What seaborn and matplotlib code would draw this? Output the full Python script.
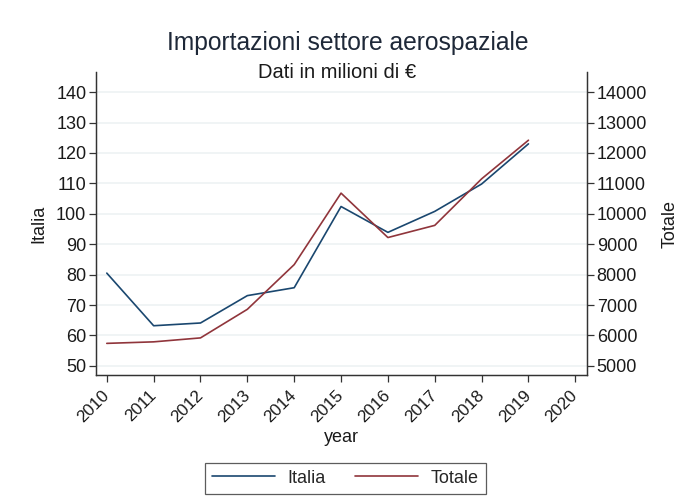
import pandas as pd
import matplotlib
matplotlib.use("Agg")
import matplotlib.pyplot as plt
import matplotlib.transforms as mtransforms
import seaborn as sns

sns.set_theme(style="white")
plt.rcParams['font.family'] = ['Liberation Sans', 'DejaVu Sans']

# Data
years = [2010, 2011, 2012, 2013, 2014, 2015, 2016, 2017, 2018, 2019]
italia = [80.5, 63.2, 64.1, 73.1, 75.7, 102.4, 93.9, 100.8, 109.8, 123.0]
totale = [5740, 5790, 5920, 6860, 8330, 10680, 9220, 9620, 11150, 12420]

year_ticks = list(range(2010, 2021))
left_ticks = list(range(50, 141, 10))
right_ticks = list(range(5000, 14001, 1000))

df = pd.DataFrame({'year': years, 'Italia': italia, 'Totale': totale})

c_italia = '#1a476f'
c_totale = '#90353b'
txt = '#1a1a1a'
fs = 13

fig = plt.figure(figsize=(6.81, 5.01), dpi=100)
ax = fig.add_axes([0.141, 0.2515, 0.721, 0.604])
ax2 = ax.twinx()

sns.lineplot(data=df, x='year', y='Italia', color=c_italia, linewidth=1.2, ax=ax, label='Italia', legend=False)
sns.lineplot(data=df, x='year', y='Totale', color=c_totale, linewidth=1.2, ax=ax2, label='Totale', legend=False)

ax.set_xlim(2009.77, 2020.25)
ax.set_ylim(47, 146.5)
ax2.set_ylim(4700, 14650)

ax.set_xticks(year_ticks)
ax.set_xticklabels([str(y) for y in year_ticks], rotation=45, ha='right', va='center',
                   rotation_mode='anchor', fontsize=12.3, color=txt)
# nudge rotated year labels a little to the right, like the original
offset = mtransforms.ScaledTranslation(5 / 100, 0, fig.dpi_scale_trans)
for lbl in ax.get_xticklabels():
    lbl.set_transform(lbl.get_transform() + offset)

ax.set_yticks(left_ticks)
ax.set_yticklabels([str(v) for v in left_ticks], fontsize=fs, color=txt)
ax2.set_yticks(right_ticks)
ax2.set_yticklabels([str(v) for v in right_ticks], fontsize=fs, color=txt)

ax.grid(axis='y', color='#eef2f3', linewidth=1.2)
ax.set_axisbelow(True)

for a in (ax, ax2):
    a.tick_params(axis='both', which='major', direction='out', length=5, width=0.9, color='#333333', pad=2)
    a.spines['top'].set_visible(False)
    for s in ('left', 'right', 'bottom'):
        a.spines[s].set_color('#333333')
        a.spines[s].set_linewidth(0.9)
ax.tick_params(axis='x', bottom=True, pad=8)
ax.tick_params(axis='y', left=True)
ax2.tick_params(axis='y', right=True)

ax.set_xlabel('year', fontsize=fs, color=txt, labelpad=3)
ax.set_ylabel('Italia', fontsize=fs, color=txt, labelpad=6)
ax2.set_ylabel('Totale', fontsize=fs, color=txt, labelpad=10)

fig.text(0.511, 0.915, 'Importazioni settore aerospaziale', ha='center', va='center', fontsize=17.7, color='#1e2838')
fig.text(0.495, 0.855, 'Dati in milioni di €', ha='center', va='center', fontsize=14.5, color=txt)

h1, l1 = ax.get_legend_handles_labels()
h2, l2 = ax2.get_legend_handles_labels()
leg = fig.legend(h1 + h2, l1 + l2, loc='lower center', bbox_to_anchor=(0.507, 0.014), ncol=2,
                 fontsize=fs, frameon=True, fancybox=False, handlelength=3.5, columnspacing=1.6,
                 borderpad=0.4, handletextpad=0.7, borderaxespad=0)
leg.get_frame().set_edgecolor('#333333')
leg.get_frame().set_linewidth(0.9)

fig.savefig('out.png', dpi=100)
